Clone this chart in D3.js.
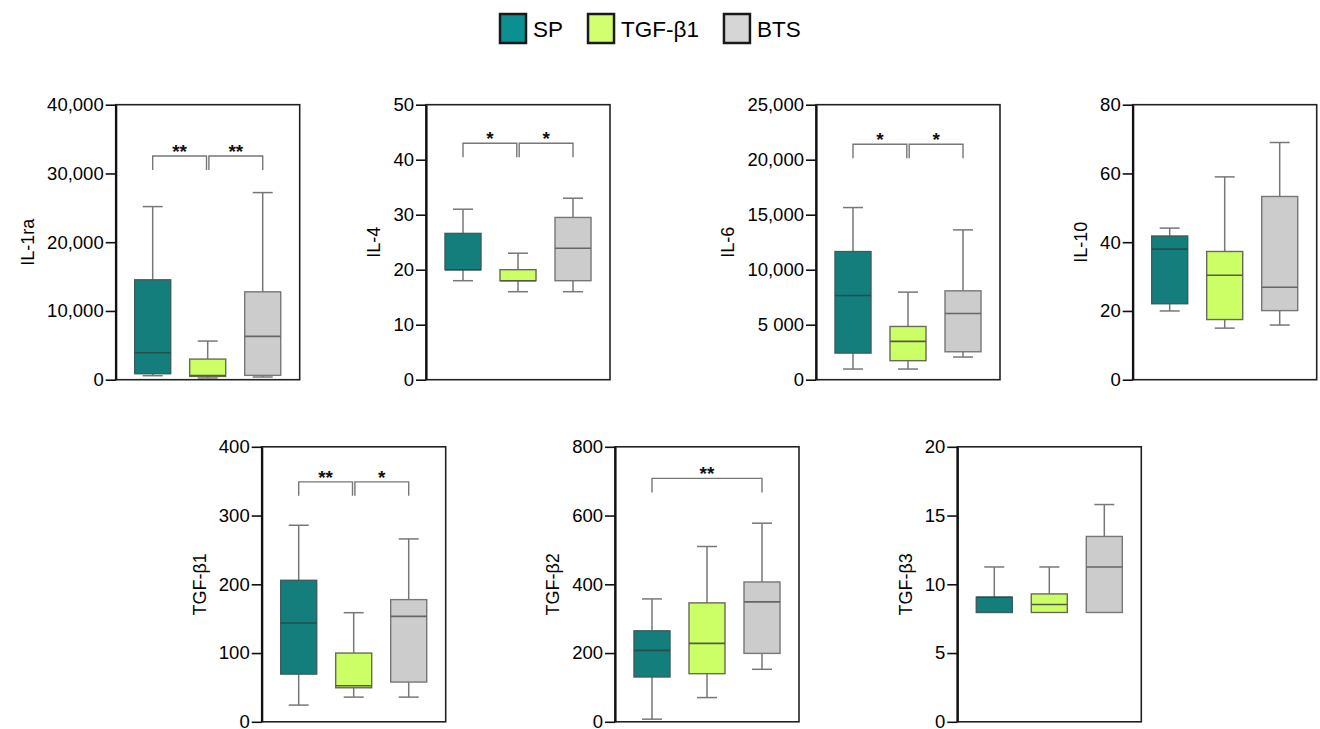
<!DOCTYPE html>
<html>
<head>
<meta charset="utf-8">
<script src="https://cdn.jsdelivr.net/npm/d3@7"></script>
<style>
  body { margin: 0; background: #fff; }
  svg { font-family: "Liberation Sans", Arial, sans-serif; }
</style>
</head>
<body>
<svg id="chart" width="1320" height="729"></svg>
<script>
// groups and their colours
const groups = ["SP", "TGF-β1", "BTS"];
const legendFill = ["#0b8f8f", "#d2ff70", "#d6d6d6"];
const boxFill = ["#137e7c", "#ccff66", "#cccccc"];
const boxStroke = ["#3a5f5d", "#6a6a5a", "#777777"];
const medianStroke = ["#234f4d", "#5a5a4a", "#666666"];

// panels
const panelNames = ["IL-1ra", "IL-4", "IL-6", "IL-10", "TGF-β1", "TGF-β2", "TGF-β3"];
const yMax = [40000, 50, 25000, 80, 400, 800, 20];
const tickValues = [
    [0, 10000, 20000, 30000, 40000],
    [0, 10, 20, 30, 40, 50],
    [0, 5000, 10000, 15000, 20000, 25000],
    [0, 20, 40, 60, 80],
    [0, 100, 200, 300, 400],
    [0, 200, 400, 600, 800],
    [0, 5, 10, 15, 20]
];
const tickLabels = [
    ["0", "10,000", "20,000", "30,000", "40,000"],
    ["0", "10", "20", "30", "40", "50"],
    ["0", "5 000", "10,000", "15,000", "20,000", "25,000"],
    ["0", "20", "40", "60", "80"],
    ["0", "100", "200", "300", "400"],
    ["0", "200", "400", "600", "800"],
    ["0", "5", "10", "15", "20"]
];

// box stats per group: [whisker low, q1, median, q3, whisker high]
const il1ra = [[580, 870, 3920, 14530, 25180], [240, 480, 600, 3000, 5620], [390, 630, 6300, 12780, 27215]];
const il4 = [[18, 20, 20, 26.6, 31], [16, 18, 18, 20, 23], [16, 18, 23.9, 29.5, 33]];
const il6 = [[970, 2420, 7660, 11650, 15650], [970, 1730, 3480, 4840, 7960], [2060, 2540, 6020, 8080, 13620]];
const il10 = [[20, 22.1, 38, 41.8, 44.1], [15, 17.5, 30.4, 37.3, 59], [15.9, 20.1, 26.9, 53.3, 69]];
const tgfb1 = [[24.3, 69.4, 143.7, 205.8, 285.9], [35.9, 49.5, 52.4, 100, 158.7], [35.9, 57.8, 153.4, 177.7, 266]];
const tgfb2 = [[7.7, 130.4, 207.7, 264.7, 357.5], [70.5, 140, 228, 345.9, 510], [152.7, 199, 348.8, 406.8, 577.8]];
const tgfb3 = [[7.95, 7.95, 9.06, 9.06, 11.26], [7.95, 7.95, 8.53, 9.3, 11.26], [7.95, 7.95, 11.26, 13.48, 15.8]];
const stats = [il1ra, il4, il6, il10, tgfb1, tgfb2, tgfb3];

// significance brackets: panel index, from group, to group, label, bracket level
const brackets = [
    [0, 0, 1, "**", 32540], [0, 1, 2, "**", 32540],
    [1, 0, 1, "*", 43], [1, 1, 2, "*", 43],
    [2, 0, 1, "*", 21400], [2, 1, 2, "*", 21400],
    [4, 0, 1, "**", 349], [4, 1, 2, "*", 349],
    [5, 0, 2, "**", 708]
];

// layout
const layout = [
    [115.7, 104.7], [426, 104.7], [816, 104.7], [1132.7, 104.7],
    [261.7, 446.8], [615, 446.8], [957.3, 446.8]
];
const pw = 184, ph = 275;

const svg = d3.select("#chart");

// legend
const legend = svg.append("g");
let lx = 500;
groups.forEach(function(gname, i) {
    legend.append("rect")
        .attr("x", lx).attr("y", 14)
        .attr("width", 26).attr("height", 29)
        .attr("fill", legendFill[i])
        .attr("stroke", "#1a1a1a")
        .attr("stroke-width", 2.5);
    const t = legend.append("text")
        .attr("x", lx + 33).attr("y", 36.5)
        .attr("font-size", 22.5)
        .attr("fill", "#000")
        .text(gname);
    lx += 33 + t.node().getComputedTextLength() + 25;
});

panelNames.forEach(function(name, p) {
    const g = svg.append("g")
        .attr("transform", "translate(" + layout[p][0] + "," + layout[p][1] + ")");

    const x = d3.scaleBand().domain(d3.range(3)).range([0, pw]).padding(0.345);
    const y = d3.scaleLinear().domain([0, yMax[p]]).range([ph, 0]);

    // frame
    g.append("rect")
        .attr("width", pw).attr("height", ph)
        .attr("fill", "none")
        .attr("stroke", "#222")
        .attr("stroke-width", 1.6);

    const axis = g.append("g")
        .call(d3.axisLeft(y)
            .tickValues(tickValues[p])
            .tickFormat(function(d, i) { return tickLabels[p][i]; })
            .tickSize(10)
            .tickSizeOuter(0)
            .tickPadding(2));
    axis.select(".domain").attr("stroke", "#111").attr("stroke-width", 2.2);
    axis.selectAll(".tick line").attr("stroke", "#111").attr("stroke-width", 1.6);
    axis.selectAll(".tick text")
        .attr("font-size", 18.5)
        .attr("fill", "#000")
        .attr("font-family", "'Liberation Sans', Arial, sans-serif");

    const bb = axis.node().getBBox();
    g.append("text")
        .attr("transform", "translate(" + (bb.x - 19) + "," + (ph / 2) + ") rotate(-90)")
        .attr("text-anchor", "middle")
        .attr("dominant-baseline", "central")
        .attr("font-size", 18)
        .attr("fill", "#000")
        .text(name);

    const bw = x.bandwidth();
    const capW = 20;

    stats[p].forEach(function(s, i) {
        const cx = x(i) + bw / 2;
        const bg = g.append("g");
        // whiskers
        bg.append("line")
            .attr("x1", cx).attr("x2", cx)
            .attr("y1", y(s[4])).attr("y2", y(s[3]))
            .attr("stroke", "#777").attr("stroke-width", 1.5);
        bg.append("line")
            .attr("x1", cx).attr("x2", cx)
            .attr("y1", y(s[1])).attr("y2", y(s[0]))
            .attr("stroke", "#777").attr("stroke-width", 1.5);
        bg.append("line")
            .attr("x1", cx - capW / 2).attr("x2", cx + capW / 2)
            .attr("y1", y(s[4])).attr("y2", y(s[4]))
            .attr("stroke", "#777").attr("stroke-width", 1.5);
        if (s[0] < s[1]) {
            bg.append("line")
                .attr("x1", cx - capW / 2).attr("x2", cx + capW / 2)
                .attr("y1", y(s[0])).attr("y2", y(s[0]))
                .attr("stroke", "#777").attr("stroke-width", 1.5);
        }
        // box
        bg.append("rect")
            .attr("x", x(i)).attr("y", y(s[3]))
            .attr("width", bw).attr("height", y(s[1]) - y(s[3]))
            .attr("fill", boxFill[i])
            .attr("stroke", boxStroke[i])
            .attr("stroke-width", 1.4);
        bg.append("line")
            .attr("x1", x(i)).attr("x2", x(i) + bw)
            .attr("y1", y(s[2])).attr("y2", y(s[2]))
            .attr("stroke", medianStroke[i]).attr("stroke-width", 1.6);
    });

    // brackets
    brackets.filter(function(b) { return b[0] === p; }).forEach(function(b) {
        const adj = b[2] - b[1] === 1;
        const x1 = x(b[1]) + bw / 2 + (b[1] === 1 && adj ? 1.2 : 0);
        const x2 = x(b[2]) + bw / 2 - (b[2] === 1 && adj ? 1.2 : 0);
        const yy = y(b[4]);
        g.append("path")
            .attr("d", "M" + x1 + "," + (yy + 14) + "V" + yy + "H" + x2 + "V" + (yy + 14))
            .attr("fill", "none")
            .attr("stroke", "#777")
            .attr("stroke-width", 1.4);
        g.append("text")
            .attr("x", (x1 + x2) / 2)
            .attr("y", yy + 2)
            .attr("text-anchor", "middle")
            .attr("font-size", 19)
            .attr("font-weight", "bold")
            .attr("fill", "#111")
            .text(b[3]);
    });
});
</script>
</body>
</html>
